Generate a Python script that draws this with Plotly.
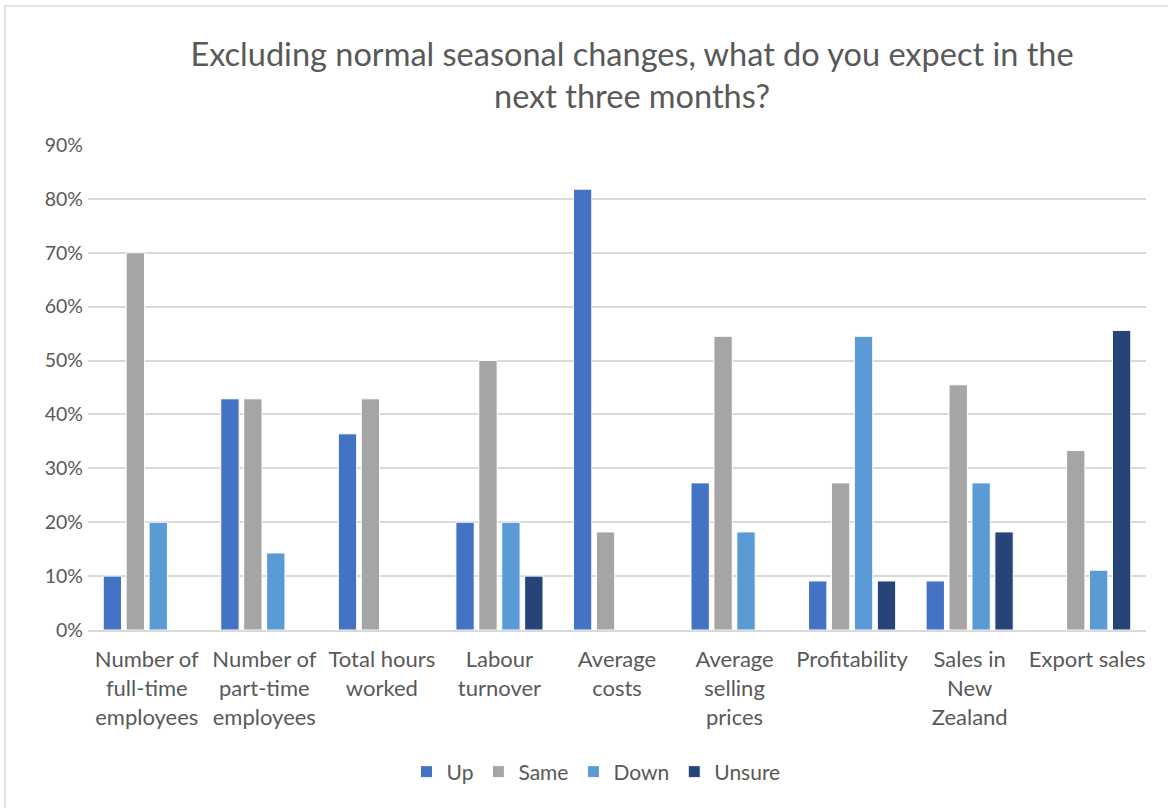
import plotly.graph_objects as go

categories = [
    "Number of<br>full-time<br>employees",
    "Number of<br>part-time<br>employees",
    "Total hours<br>worked",
    "Labour<br>turnover",
    "Average<br>costs",
    "Average<br>selling<br>prices",
    "Profitability",
    "Sales in<br>New<br>Zealand",
    "Export sales",
]

up = [0.100, 0.429, 0.364, 0.200, 0.818, 0.273, 0.091, 0.091, 0.0]
same = [0.700, 0.429, 0.429, 0.500, 0.182, 0.545, 0.273, 0.455, 0.333]
down = [0.200, 0.143, 0.0, 0.200, 0.0, 0.182, 0.545, 0.273, 0.111]
unsure = [0.0, 0.0, 0.0, 0.100, 0.0, 0.0, 0.091, 0.182, 0.556]

series = [
    ("Up", up, "#4472C4"),
    ("Same", same, "#A5A5A5"),
    ("Down", down, "#5B9BD5"),
    ("Unsure", unsure, "#264478"),
]

FONT = "Lato, 'Open Sans', sans-serif"
W, H = 1168, 808
L, R, T, B = 88, 22, 145, 178

fig = go.Figure()
for name, vals, color in series:
    fig.add_trace(go.Bar(
        name=name, x=categories, y=vals,
        marker=dict(color=color, line=dict(color="white", width=1)),
    ))

pw = W - L - R
ph = H - T - B

fig.update_layout(
    width=W, height=H,
    margin=dict(l=L, r=R, t=T, b=B),
    paper_bgcolor="white", plot_bgcolor="white",
    barmode="group", bargap=0.22, bargroupgap=0.2,
    font=dict(family=FONT, color="#595959"),
    title=dict(
        text="Excluding normal seasonal changes, what do you expect in the<br>next three months?",
        x=632 / W, xanchor="center", y=1 - 66 / H, yanchor="middle",
        font=dict(family=FONT, size=32.5, color="#595959"),
    ),
    yaxis=dict(
        range=[0, 0.9], dtick=0.1, tickformat=".0%",
        showgrid=True, gridcolor="#D9D9D9", gridwidth=2,
        zeroline=False, showline=False,
        tickfont=dict(size=19.5, color="#595959"), ticks="", ticklen=0,
        ticklabelstandoff=4,
    ),
    xaxis=dict(
        showline=True, linecolor="#D9D9D9", linewidth=2,
        tickfont=dict(size=22, color="#595959"), ticks="",
        tickangle=0, ticklabelstandoff=9,
    ),
    legend=dict(
        orientation="h", x=(596 - L) / pw, xanchor="center",
        y=-(772 - (T + ph)) / ph, yanchor="middle",
        font=dict(size=21, color="#595959"),
        traceorder="normal",
    ),
    shapes=[dict(
        type="rect", xref="paper", yref="paper",
        x0=(5 - L) / pw, x1=(W + 10 - L) / pw,
        y0=-(H + 10 - T - ph) / ph, y1=1 + (T - 6) / ph,
        line=dict(color="#D9D9D9", width=1.5), fillcolor="rgba(0,0,0,0)",
        layer="below",
    )],
)

fig.write_html("out.html")
